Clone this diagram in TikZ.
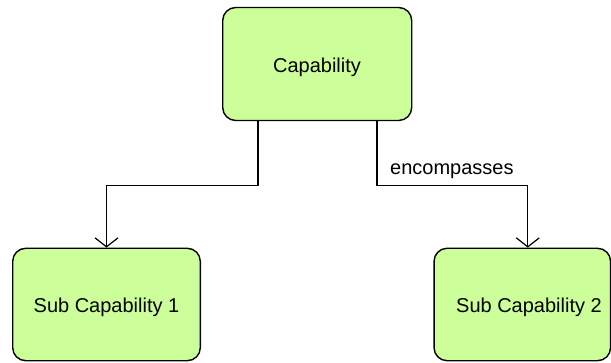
\documentclass[tikz,border=0pt]{standalone}
\usepackage{fontspec}
\setmainfont{Liberation Sans}
\usetikzlibrary{arrows.meta}
\definecolor{boxgreen}{RGB}{204,255,153}
\begin{document}
\begin{tikzpicture}[x=1pt,y=1pt,
  capbox/.style={draw=black, line width=1.4pt, fill=boxgreen, rounded corners=13pt, inner sep=0pt},
  lbl/.style={font=\fontsize{20}{23}\selectfont, inner sep=0pt},
  arr/.style={line width=1.3pt, -{Straight Barb[length=9pt,width=23pt,line width=1.2pt]}}]
\useasboundingbox (0,0) rectangle (611,362);
\node[capbox, minimum width=189pt, minimum height=113pt] (top) at (317.2,298) {};
\node[lbl] (topt) at (317,295) {Capability};
\node[capbox, minimum width=187.6pt, minimum height=112.4pt] (sub1) at (106.5,57.5) {};
\node[lbl] (sub1t) at (106.5,55) {Sub Capability 1};
\node[capbox, minimum width=176.5pt, minimum height=112.4pt] (sub2) at (522.3,57.5) {};
\node[lbl] (sub2t) at (529,55) {Sub Capability 2};
\draw[arr] ([xshift=-59.2pt]top.south) -- ++(0,-64.5) -| (sub1.north);
\draw[arr] ([xshift=59.8pt]top.south) -- ++(0,-64.5) -| ([xshift=5.5pt]sub2.north);
\node[lbl, anchor=base west] (enc) at (390,187) {encompasses};
\end{tikzpicture}
\end{document}
